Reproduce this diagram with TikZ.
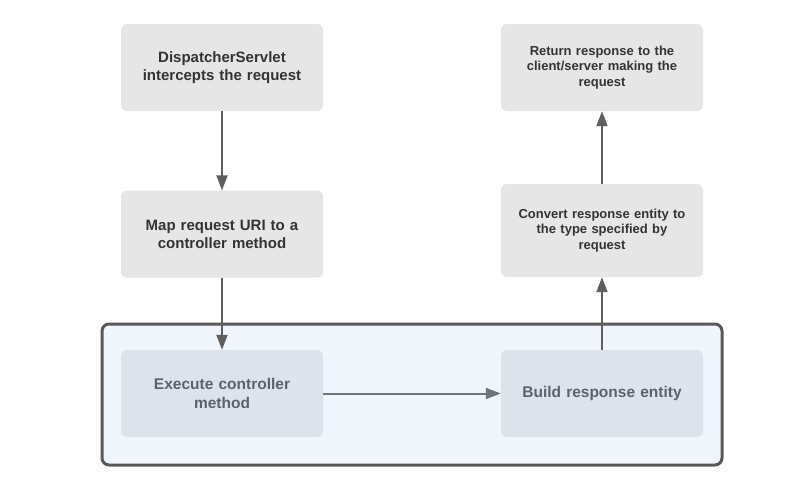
\documentclass[tikz,border=0pt]{standalone}
\usepackage{fontspec}
\setmainfont{Liberation Sans}
\usetikzlibrary{arrows.meta}
\definecolor{boxgray}{HTML}{E6E6E6}
\definecolor{txtdark}{HTML}{333333}
\definecolor{txtblue}{HTML}{5A636C}
\definecolor{contfill}{HTML}{F0F6FB}
\definecolor{contline}{HTML}{595959}
\definecolor{innerfill}{HTML}{DDE3EA}
\definecolor{arrgray}{HTML}{5F5F5F}
\definecolor{arrblue}{HTML}{6E767D}
\tikzset{
  stepbox/.style={rectangle, rounded corners=6pt, fill=boxgray, draw=none,
    minimum width=202pt, minimum height=87pt, align=center, text width=190pt,
    text=txtdark, font=\bfseries\fontsize{15}{18}\selectfont},
  smallbox/.style={stepbox, font=\bfseries\fontsize{13}{15.5}\selectfont},
  innerbox/.style={stepbox, fill=innerfill, text=txtblue,
    font=\bfseries\fontsize{15.5}{19}\selectfont},
  container/.style={rectangle, rounded corners=7pt, fill=contfill, draw=contline,
    line width=3pt, minimum width=620pt, minimum height=141pt},
  flow/.style={draw=arrgray, line width=2pt, -{Triangle[width=11pt,length=15pt]}},
  flowin/.style={draw=arrblue, line width=2pt, -{Triangle[width=11pt,length=15pt]}}
}
\begin{document}
\begin{tikzpicture}[x=1pt,y=-1pt]
\useasboundingbox (0,0) rectangle (790,477);
\fill[white] (0,0) rectangle (790,477);
\node[container] (cont) at (412,394.5) {};
\node[stepbox] (disp) at (222,67.5) {DispatcherServlet\\intercepts the request};
\node[stepbox] (map) at (222,234) {Map request URI to a\\controller method};
\node[smallbox] (ret) at (602,67.5) {Return response to the\\client/server making the\\request};
\node[smallbox, minimum height=93pt] (conv) at (602,230.5) {Convert response entity to\\the type specified by\\request};
\node[innerbox] (exec) at (222,393.5) {Execute controller\\method};
\node[innerbox] (build) at (602,393.5) {Build response entity};
\draw[flow] (disp.south) -- (map.north);
\draw[flow] (map.south) -- (exec.north);
\draw[flowin] (exec.east) -- (build.west);
\draw[flow] (build.north) -- (conv.south);
\draw[flow] (conv.north) -- (ret.south);
\end{tikzpicture}
\end{document}
